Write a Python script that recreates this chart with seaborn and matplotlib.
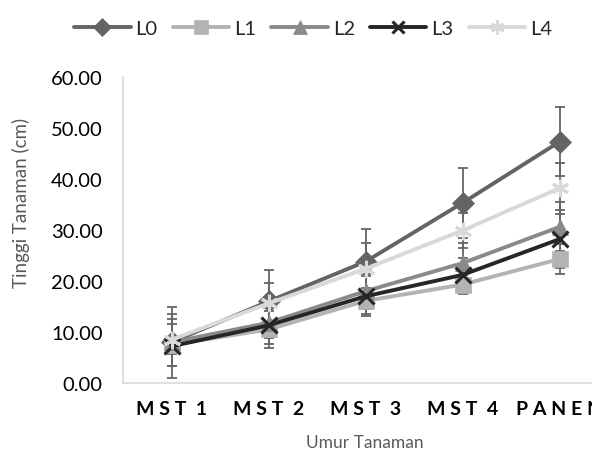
import numpy as np
import pandas as pd
import matplotlib
matplotlib.use("Agg")
import matplotlib.pyplot as plt
from matplotlib.ticker import FixedLocator, FormatStrFormatter
import seaborn as sns

# data
umur = ["MST 1", "MST 2", "MST 3", "MST 4", "PANEN"]
series = ["L0", "L1", "L2", "L3", "L4"]
L0 = [8.0, 16.0, 23.8, 35.3, 47.3]
L1 = [7.5, 10.5, 16.1, 19.3, 24.3]
L2 = [8.0, 11.8, 18.0, 23.5, 30.6]
L3 = [7.2, 11.3, 17.0, 21.2, 28.2]
L4 = [8.5, 15.6, 22.4, 29.9, 38.2]
L0_err = [7.0, 6.1, 6.4, 6.8, 6.8]
L1_err = [4.1, 3.7, 2.6, 1.9, 2.9]
L2_err = [4.6, 3.0, 3.4, 3.9, 4.8]
L3_err = [1.5, 3.6, 3.9, 3.4, 5.7]
L4_err = [5.1, 4.0, 5.0, 3.5, 5.0]

vals = {"L0": L0, "L1": L1, "L2": L2, "L3": L3, "L4": L4}
errs = {"L0": L0_err, "L1": L1_err, "L2": L2_err, "L3": L3_err, "L4": L4_err}

df = pd.DataFrame([(s, u, v) for s in series for u, v in zip(umur, vals[s])],
                  columns=["seri", "umur", "tinggi"])

colors = {"L0": "#646464", "L1": "#b3b3b3", "L2": "#8a8a8a", "L3": "#262626", "L4": "#d9d9d9"}
marks = {"L0": "D", "L1": "s", "L2": "^", "L3": "x", "L4": (6, 2, 0)}
msize = {"L0": 11.5, "L1": 12, "L2": 12, "L3": 11.5, "L4": 12.5}

sns.set_style("white")
plt.rcParams["font.family"] = ["Lato", "DejaVu Sans"]

fig = plt.figure(figsize=(5.92, 4.52), dpi=100)
ax = fig.add_axes([123 / 592, 68 / 452, 485 / 592, 306 / 452])

sns.lineplot(data=df, x="umur", y="tinggi", hue="seri", palette=colors,
             sort=False, linewidth=2.8, ax=ax, zorder=3)
data_lines = list(ax.lines)


def style_marker(line, s, scale=1.0):
    line.set_marker(marks[s])
    line.set_markersize(msize[s] * scale)
    line.set_markeredgecolor(colors[s])
    line.set_markerfacecolor(colors[s])
    line.set_markeredgewidth(2.2 if s in ("L3", "L4") else 0.5)
    line.set_linewidth(2.8)


for line, s in zip(data_lines, series):
    style_marker(line, s)

# error bars under the lines
for s in series:
    ax.errorbar(umur, vals[s], yerr=errs[s], fmt="none", ecolor="#666666",
                elinewidth=1.3, capsize=3.8, capthick=1.3, zorder=1)

handles, labels = ax.get_legend_handles_labels()
ax.get_legend().remove()
for h, s in zip(handles, labels):
    style_marker(h, s, 0.8)
fig.legend(handles, labels, loc="center", bbox_to_anchor=(0.529, 0.935), ncol=5,
           frameon=False, fontsize=14.5, handlelength=2.8, handletextpad=0.25,
           columnspacing=0.75)

ax.set_xlim(-0.5, 4.5)
ax.set_ylim(0, 60)
ax.set_yticks(np.arange(0, 61, 10))
ax.yaxis.set_major_formatter(FormatStrFormatter("%.2f"))
ax.tick_params(axis="y", labelsize=14.5, length=4.5, width=1, color="#d9d9d9",
               pad=10, labelcolor="black")


def spaced(label):
    return "  ".join(" ".join(w) for w in label.split())


ax.set_xticks(range(len(umur)))
ax.set_xticklabels([spaced(u) for u in umur], fontweight="bold", fontsize=14)
ax.xaxis.set_minor_locator(FixedLocator(np.arange(-0.5, 5, 1)))
ax.tick_params(axis="x", which="major", length=0, pad=12, labelcolor="black")
ax.tick_params(axis="x", which="minor", length=5, width=1, color="#d9d9d9")

for side in ("top", "right"):
    ax.spines[side].set_visible(False)
for side in ("left", "bottom"):
    ax.spines[side].set_color("#d9d9d9")
    ax.spines[side].set_linewidth(1.2)

ax.set_xlabel("")
ax.set_ylabel("")
fig.text(365 / 592, 1 - 443 / 452, "Umur Tanaman", ha="center", va="center",
         fontsize=12.5, color="#595959")
fig.text(21 / 592, 1 - 203 / 452, "Tinggi Tanaman (cm)", ha="center", va="center",
         rotation=90, fontsize=13.5, color="#595959")

fig.savefig("out.png", dpi=100)
